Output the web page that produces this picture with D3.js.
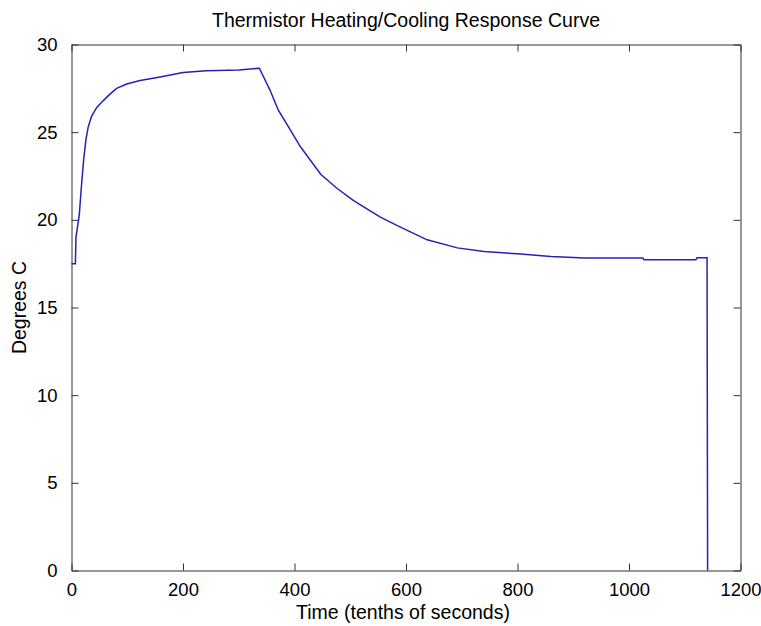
<!DOCTYPE html>
<meta charset="utf-8">
<html>
<head>
<title>Thermistor Heating/Cooling Response Curve</title>
</head>

<style>
  body { margin: 0; background: #fff; }
  .axis text {
      font-family: "Liberation Sans", Arial, sans-serif;
      font-size: 18.5px;
      fill: #000;
  }
  .axis path, .axis line { stroke: #333; }
  .label {
      font-family: "Liberation Sans", Arial, sans-serif;
      font-size: 19.5px;
      fill: #000;
  }
</style>

<script src="https://d3js.org/d3.v7.min.js"></script>

<body>
<svg width="761" height="626"></svg>
</body>

<script>
  // Data
  var times = [0, 7, 8, 14, 18, 22, 26, 30, 36, 45, 57, 70, 81, 99, 123, 159, 200, 242, 300, 337,
               356, 371, 393, 411, 447, 476, 506, 554, 590, 638, 692, 740, 800, 860, 920,
               1025, 1027, 1120, 1122, 1140, 1141];
  var temps = [17.5, 17.5, 19.0, 20.3, 22.0, 23.5, 24.6, 25.3, 25.9, 26.4, 26.8, 27.2, 27.5, 27.75, 27.95, 28.15, 28.4, 28.5, 28.55, 28.65,
               27.4, 26.25, 25.1, 24.15, 22.6, 21.8, 21.1, 20.15, 19.58, 18.86, 18.4, 18.2, 18.06, 17.91, 17.82,
               17.82, 17.72, 17.72, 17.84, 17.84, 0];
  var xTicks = [0, 200, 400, 600, 800, 1000, 1200];
  var yTicks = [0, 5, 10, 15, 20, 25, 30];

  var svg = d3.select("svg");

  var mLeft = 71.5, mRight = 740.5, mTop = 44.5, mBottom = 570.5;

  var x = d3.scaleLinear().domain([0, 1200]).range([mLeft, mRight]);
  var y = d3.scaleLinear().domain([0, 30]).range([mBottom, mTop]);

  // box with inward ticks on all four sides
  svg.append("g").attr("class", "axis")
      .attr("transform", "translate(0," + mBottom + ")")
      .call(d3.axisBottom(x).tickValues(xTicks).tickSizeInner(-7).tickSizeOuter(0).tickPadding(12).tickFormat(d3.format("d")));
  svg.append("g").attr("class", "axis")
      .attr("transform", "translate(0," + mTop + ")")
      .call(d3.axisTop(x).tickValues(xTicks).tickSizeInner(-7).tickSizeOuter(0).tickFormat(""));
  svg.append("g").attr("class", "axis")
      .attr("transform", "translate(" + mLeft + ",0)")
      .call(d3.axisLeft(y).tickValues(yTicks).tickSizeInner(-7).tickSizeOuter(0).tickPadding(14).tickFormat(d3.format("d")));
  svg.append("g").attr("class", "axis")
      .attr("transform", "translate(" + mRight + ",0)")
      .call(d3.axisRight(y).tickValues(yTicks).tickSizeInner(-7).tickSizeOuter(0).tickFormat(""));

  // curve
  var pts = times.map(function(t, i) { return [t, temps[i]]; });
  var line = d3.line()
      .x(function(d) { return x(d[0]); })
      .y(function(d) { return y(d[1]); });
  svg.append("path")
      .datum(pts)
      .attr("fill", "none")
      .attr("stroke", "#2222b8")
      .attr("stroke-width", 1.5)
      .attr("d", line);

  // labels
  svg.append("text").attr("class", "label")
      .attr("x", (mLeft + mRight) / 2).attr("y", 27)
      .attr("text-anchor", "middle")
      .text("Thermistor Heating/Cooling Response Curve");
  svg.append("text").attr("class", "label")
      .attr("x", (mLeft + mRight) / 2 - 3).attr("y", 619)
      .attr("text-anchor", "middle")
      .text("Time (tenths of seconds)");
  svg.append("text").attr("class", "label")
      .attr("transform", "translate(26," + (mTop + mBottom) / 2 + ") rotate(-90)")
      .attr("text-anchor", "middle")
      .text("Degrees C");
</script>
</html>
